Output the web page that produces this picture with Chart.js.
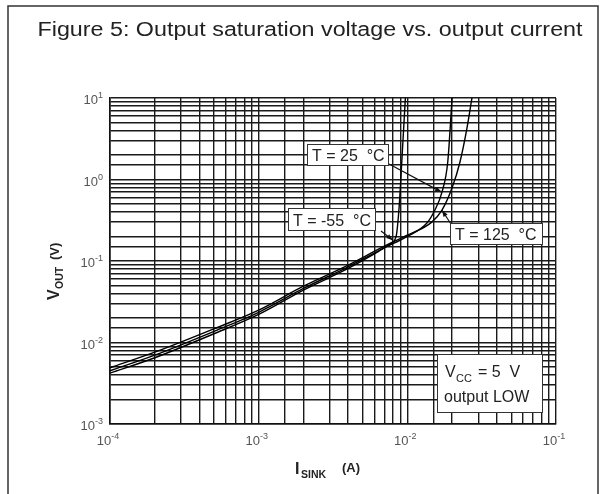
<!DOCTYPE html>
<html>
<head>
<meta charset="utf-8">
<script src="https://cdn.jsdelivr.net/npm/chart.js@4"></script>
<style>
  body { margin: 0; background: #fff; }
  canvas { display: block; }
</style>
</head>
<body>
<canvas id="chart" width="604" height="494"></canvas>
<script>
// sink current (A) and output voltage (V)
const iSinkM55 = [1e-4, 2e-4, 5e-4, 1e-3, 2e-3, 4e-3, 6e-3, 7.6e-3, 8.4e-3, 8.8e-3, 9.2e-3, 9.7e-3];
const vOutM55  = [0.0042, 0.0065, 0.0128, 0.0221, 0.044, 0.081, 0.122, 0.16, 0.2, 0.45, 1.8, 10];

const iSink25 = [1e-4, 2e-4, 5e-4, 1e-3, 2e-3, 4e-3, 7e-3, 1.0e-2, 1.35e-2, 1.53e-2, 1.71e-2, 1.87e-2, 2.0e-2];
const vOut25  = [0.0045, 0.007, 0.0137, 0.0235, 0.046, 0.085, 0.145, 0.2, 0.29, 0.42, 0.7, 1.64, 10];

const iSink125 = [1e-4, 2e-4, 5e-4, 1e-3, 2e-3, 4e-3, 7e-3, 1.0e-2, 1.46e-2, 1.71e-2, 2.0e-2, 2.26e-2, 2.52e-2, 2.72e-2];
const vOut125  = [0.0049, 0.0076, 0.0147, 0.0249, 0.049, 0.089, 0.152, 0.207, 0.3, 0.42, 0.79, 1.64, 4.3, 10];

const seriesNames = ["T = -55  °C", "T = 25  °C", "T = 125  °C"];

const xMin = 1e-4, xMax = 1e-1;
const yMin = 1e-3, yMax = 1e1;

function decade(value) {
    const e = Math.log10(value);
    return Math.abs(e - Math.round(e)) < 1e-6 ? Math.round(e) : null;
}

function toPoints(xs, ys) {
    return xs.map((x, i) => ({ x: x, y: ys[i] }));
}

// label boxes (pixels) and where their pointers land (data values)
const callouts = [
    { text: seriesNames[1], box: [307, 144, 81, 21], from: [389, 164], to: [0.0170, 0.70] },
    { text: seriesNames[0], box: [288, 208, 87, 22], from: [381, 231], to: [0.0080, 0.18] },
    { text: seriesNames[2], box: [450, 223, 92, 21], from: [451, 224], to: [0.0171, 0.42] }
];

function arrow(ctx, x0, y0, x1, y1) {
    ctx.beginPath();
    ctx.moveTo(x0, y0);
    ctx.lineTo(x1, y1);
    ctx.stroke();
    const a = Math.atan2(y1 - y0, x1 - x0);
    ctx.beginPath();
    ctx.moveTo(x1, y1);
    ctx.lineTo(x1 - 7 * Math.cos(a - 0.35), y1 - 7 * Math.sin(a - 0.35));
    ctx.lineTo(x1 - 7 * Math.cos(a + 0.35), y1 - 7 * Math.sin(a + 0.35));
    ctx.closePath();
    ctx.fill();
}

const FONT = "'Liberation Sans', Arial, sans-serif";

// "10" with a raised exponent; anchor is the left end of the baseline
function drawPower(ctx, exp, x, y) {
    ctx.font = "13px " + FONT;
    ctx.fillText("10", x, y);
    const w = ctx.measureText("10").width;
    ctx.font = "9px " + FONT;
    ctx.fillText(String(exp), x + w, y - 6);
}

function powerWidth(ctx, exp) {
    ctx.font = "13px " + FONT;
    const w = ctx.measureText("10").width;
    ctx.font = "9px " + FONT;
    return w + ctx.measureText(String(exp)).width;
}

const decorations = {
    id: "decorations",
    beforeDraw(chart) {
        const ctx = chart.ctx;
        ctx.save();
        ctx.fillStyle = "#fff";
        ctx.fillRect(0, 0, chart.width, chart.height);
        ctx.restore();
    },
    afterDraw(chart) {
        const ctx = chart.ctx;
        const xs = chart.scales.x, ys = chart.scales.y;
        ctx.save();

        // outer frame
        ctx.strokeStyle = "#333";
        ctx.lineWidth = 1.5;
        ctx.strokeRect(8, 6, 590, 500);

        // title, stretched to the width it has in the figure
        const title = "Figure 5: Output saturation voltage vs. output current";
        ctx.fillStyle = "#222";
        ctx.font = "20px " + FONT;
        ctx.textAlign = "center";
        ctx.textBaseline = "middle";
        const tw = ctx.measureText(title).width;
        ctx.save();
        ctx.translate(310, 30);
        ctx.scale(545 / tw, 1);
        ctx.fillText(title, 0, 0);
        ctx.restore();

        // decade tick labels with superscript exponents
        ctx.textAlign = "left";
        ctx.textBaseline = "alphabetic";
        ctx.fillStyle = "#555";
        xs.ticks.forEach(t => {
            const e = decade(t.value);
            if (e === null) return;
            const px = xs.getPixelForValue(t.value);
            drawPower(ctx, e, px - 2 - powerWidth(ctx, e) / 2, 445);
        });
        ys.ticks.forEach(t => {
            const e = decade(t.value);
            if (e === null) return;
            const py = ys.getPixelForValue(t.value);
            drawPower(ctx, e, 103 - powerWidth(ctx, e), py + 6);
        });

        // callouts
        ctx.lineWidth = 1.2;
        ctx.strokeStyle = "#111";
        ctx.fillStyle = "#111";
        callouts.forEach(c => {
            arrow(ctx, c.from[0], c.from[1], xs.getPixelForValue(c.to[0]), ys.getPixelForValue(c.to[1]));
        });
        ctx.font = "16px " + FONT;
        callouts.forEach(c => {
            const [bx, by, bw, bh] = c.box;
            ctx.fillStyle = "#fff";
            ctx.fillRect(bx, by, bw, bh);
            ctx.strokeStyle = "#333";
            ctx.lineWidth = 1;
            ctx.strokeRect(bx + 0.5, by + 0.5, bw, bh);
            ctx.fillStyle = "#222";
            ctx.fillText(c.text, bx + 5, by + bh - 4);
        });

        // conditions box
        ctx.fillStyle = "#fff";
        ctx.fillRect(437, 354, 105, 58);
        ctx.strokeStyle = "#333";
        ctx.strokeRect(437.5, 354.5, 105, 58);
        ctx.fillStyle = "#222";
        ctx.font = "16px " + FONT;
        ctx.fillText("V", 445, 377);
        ctx.font = "11px " + FONT;
        ctx.fillText("CC", 456, 382);
        ctx.font = "16px " + FONT;
        ctx.fillText("= 5  V", 478, 377);
        ctx.fillText("output LOW", 444, 402);

        // x axis title
        ctx.font = "bold 16px " + FONT;
        ctx.fillText("I", 295, 474);
        ctx.font = "bold 10.5px " + FONT;
        ctx.fillText("SINK", 301, 478);
        ctx.font = "bold 13px " + FONT;
        ctx.fillText("(A)", 342, 472);

        // y axis title
        ctx.translate(59, 300);
        ctx.rotate(-Math.PI / 2);
        ctx.font = "bold 16px " + FONT;
        ctx.fillText("V", 0, 0);
        ctx.font = "bold 10.5px " + FONT;
        ctx.fillText("OUT", 11, 4);
        ctx.font = "bold 13px " + FONT;
        ctx.fillText("(V)", 40, 0);

        ctx.restore();
    }
};

const gridStyle = { color: "#1a1a1a", lineWidth: 1.4, drawTicks: false };

new Chart(document.getElementById("chart"), {
    type: "scatter",
    data: {
        datasets: [
            { label: seriesNames[0], data: toPoints(iSinkM55, vOutM55) },
            { label: seriesNames[1], data: toPoints(iSink25, vOut25) },
            { label: seriesNames[2], data: toPoints(iSink125, vOut125) }
        ].map(d => Object.assign(d, {
            showLine: true,
            borderColor: "#000",
            borderWidth: 1.4,
            pointRadius: 0,
            cubicInterpolationMode: "monotone",
            fill: false
        }))
    },
    options: {
        responsive: false,
        animation: false,
        layout: { padding: { top: 98, right: 48, left: 0, bottom: 0 } },
        plugins: {
            legend: { display: false },
            tooltip: { enabled: false }
        },
        scales: {
            x: {
                type: "logarithmic",
                min: xMin,
                max: xMax,
                grid: gridStyle,
                border: { color: "#111", width: 1.6 },
                ticks: { autoSkip: false, maxRotation: 0, callback: () => "" },
                afterFit: s => { s.height = 70; }
            },
            y: {
                type: "logarithmic",
                min: yMin,
                max: yMax,
                grid: gridStyle,
                border: { color: "#111", width: 1.6 },
                ticks: { autoSkip: false, callback: () => "" },
                afterFit: s => { s.width = 110; }
            }
        }
    },
    plugins: [decorations]
});
</script>
</body>
</html>
